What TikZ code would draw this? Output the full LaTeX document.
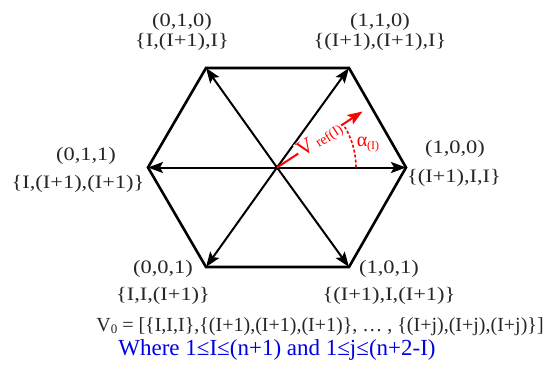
\documentclass[tikz,border=0pt]{standalone}
\usepackage{fontspec}
\setmainfont{Liberation Serif}
\usetikzlibrary{arrows.meta,calc}
\newcommand{\hs}[1]{\scalebox{1.18}[1]{#1}}
\tikzset{
  lbl/.style={inner sep=0pt,font=\fontsize{19}{20}\selectfont,text=black!85},
  vec/.style={line width=2pt,-{Stealth[length=15pt,width=11pt,inset=3pt]}},
  hexa/.style={line width=2.6pt,line join=miter},
}
\begin{document}
\begin{tikzpicture}[x=1pt,y=-1pt]
\path[use as bounding box] (0,0) rectangle (543,369);
\coordinate (C) at (277,167.5);
\coordinate (R) at (406,167.5);
\coordinate (L) at (148,167.5);
\coordinate (TL) at (206,68);
\coordinate (TR) at (349,68);
\coordinate (BL) at (206,267);
\coordinate (BR) at (349,267);
\coordinate (Vt) at (362.5,111.5);
\draw[hexa] (R) -- (TR) -- (TL) -- (L) -- (BL) -- (BR) -- cycle;
\foreach \p in {R,TR,TL,L,BL,BR} \draw[vec] (C) -- (\p);
% reference vector
\draw[red,line width=2pt,-{Stealth[length=15pt,width=11pt,inset=3pt]}] (C) -- (Vt);
\draw[red,line width=1.6pt,dash pattern=on 3pt off 2pt] ($(C)+(79,0)$) arc[start angle=0,end angle=-31,radius=79];
\node[inner sep=1pt,fill=white,text=red,rotate=33] (vref) at (320,140) {\fontsize{22}{22}\selectfont V\,\raisebox{-1pt}{\fontsize{14}{14}\selectfont ref(I)}};
\node[inner sep=0pt,text=red] (alpha) at (368,145) {\fontsize{20}{20}\selectfont α\raisebox{-3pt}{\fontsize{12}{12}\selectfont (I)}};
% labels
\node[lbl] (a1) at (182,22) {\hs{(0,1,0)}};
\node[lbl] (a2) at (182,42) {\hs{\{I,(I+1),I\}}};
\node[lbl] (b1) at (380,22) {\hs{(1,1,0)}};
\node[lbl] (b2) at (380,42) {\hs{\{(I+1),(I+1),I\}}};
\node[lbl] (c1) at (86,156) {\hs{(0,1,1)}};
\node[lbl] (c2) at (78,184) {\hs{\{I,(I+1),(I+1)\}}};
\node[lbl] (d1) at (455,149) {\hs{(1,0,0)}};
\node[lbl] (d2) at (454,178) {\hs{\{(I+1),I,I\}}};
\node[lbl] (e1) at (163,269) {\hs{(0,0,1)}};
\node[lbl] (e2) at (163,296) {\hs{\{I,I,(I+1)\}}};
\node[lbl] (f1) at (389,269) {\hs{(1,0,1)}};
\node[lbl] (f2) at (389,296) {\hs{\{(I+1),I,(I+1)\}}};
\node[lbl,font=\fontsize{20}{20}\selectfont] (v0) at (320,327) {V\raisebox{-2pt}{\fontsize{13}{13}\selectfont 0} = [\{I,I,I\},\{(I+1),(I+1),(I+1)\}, … , \{(I+j),(I+j),(I+j)\}]};
\node[inner sep=0pt,font=\fontsize{23}{23}\selectfont,text=blue!90!black] (wh) at (277,350) {Where 1≤I≤(n+1) and 1≤j≤(n+2-I)};
\end{tikzpicture}
\end{document}
